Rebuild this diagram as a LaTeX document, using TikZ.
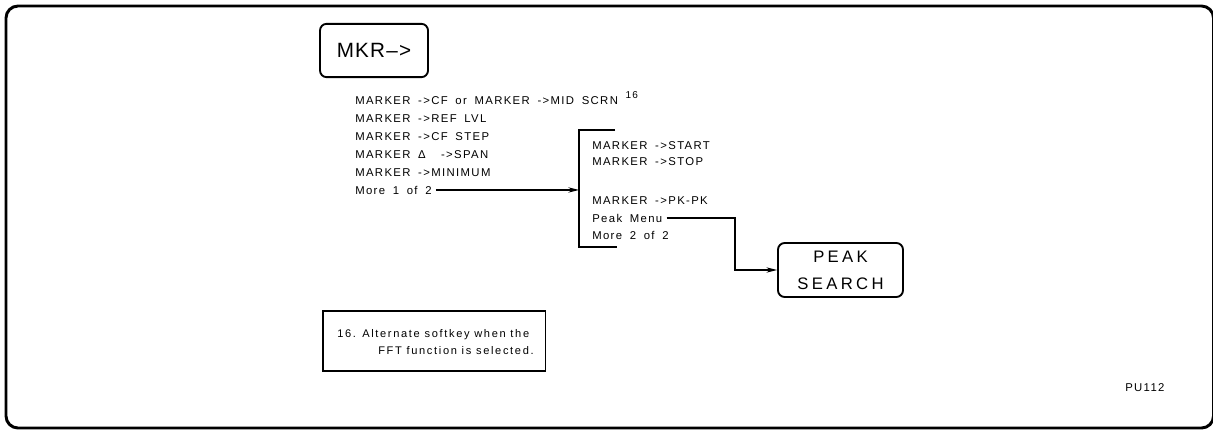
\documentclass[tikz,border=0pt]{standalone}
\usepackage{fontspec}
\setmainfont{Liberation Sans}
\newfontfamily\smallf[LetterSpace=12,WordSpace=1.7]{Liberation Sans}
\newfontfamily\bigf[LetterSpace=6]{Liberation Sans}
\newfontfamily\peakf[LetterSpace=20]{Liberation Sans}
\newfontfamily\notef[LetterSpace=15]{Liberation Sans}
\usetikzlibrary{arrows.meta}
\begin{document}
\begin{tikzpicture}[x=0.75pt,y=-0.75pt,
  lst/.style={anchor=base west, inner sep=0pt, font=\smallf\fontsize{8.5}{10}\selectfont},
  notetext/.style={anchor=base west, inner sep=0pt, font=\notef\fontsize{8.3}{10}\selectfont},
  frame/.style={line width=2.2pt, rounded corners=9pt},
  keybox/.style={draw, line width=1.4pt, rounded corners=5pt, inner sep=0pt, align=center},
  conn/.style={line width=0.9pt, -{Stealth[length=8pt,width=4pt]}},
  brk/.style={line width=1.8pt},
  notebox/.style={draw, line width=1.3pt, anchor=north west, inner sep=0pt}]
\useasboundingbox (0,0) rectangle (1213,429);
\draw[frame] (6,6) rectangle (1213.5,428);

% MKR key
\node[keybox, minimum width=81pt, minimum height=40pt,
      font=\bigf\fontsize{15.5}{17}\selectfont] (mkr) at (374,50.5) {MKR\textendash>};

% left list
\node[lst] (l1) at (355,104.25) {MARKER ->CF or MARKER ->MID SCRN \raisebox{4pt}{\fontsize{7.5}{8}\selectfont 16}};
\node[lst] (l2) at (355,122) {MARKER ->REF LVL};
\node[lst] (l3) at (355,140) {MARKER ->CF STEP};
\node[lst] (l4) at (355,158) {MARKER Δ\ \ ->SPAN};
\node[lst] (l5) at (355,176) {MARKER ->MINIMUM};
\node[lst] (l6) at (355,194) {More 1 of 2};

% bracket
\coordinate (btop) at (579,130);
\coordinate (btopr) at (615,130);
\coordinate (bbot) at (579,247);
\coordinate (bbotr) at (617,247);
\draw[brk] (btopr) -- (btop) -- (bbot) -- (bbotr);

% right list
\node[lst] (r1) at (592,149) {MARKER ->START};
\node[lst] (r2) at (592,165) {MARKER ->STOP};
\node[lst] (r3) at (592,204) {MARKER ->PK-PK};
\node[lst] (r4) at (592,222) {Peak Menu};
\node[lst] (r5) at (592,239) {More 2 of 2};

% PEAK SEARCH key
\node[keybox, minimum width=93.75pt, minimum height=40.5pt,
      font=\peakf\fontsize{12.5}{20.25}\selectfont] (ps) at (840.5,270) {PEAK\\SEARCH};

% connectors
\coordinate (pkx) at (735,270);
\draw[conn] ([xshift=3pt]l6.east) -- (l6.east -| btop);
\draw[conn] ([xshift=3pt]r4.east) -- (r4.east -| pkx) |- (ps.west);

% footnote box
\node[notebox, minimum width=167pt, minimum height=45pt] (note) at (322,310) {};
\node[notetext] (n1) at (337,337.5) {16. Alternate softkey when the};
\node[notetext] (n2) at (378,354.5) {FFT function is selected.};

% figure id
\node[lst] (pu) at (1125,391) {PU112};
\end{tikzpicture}
\end{document}
